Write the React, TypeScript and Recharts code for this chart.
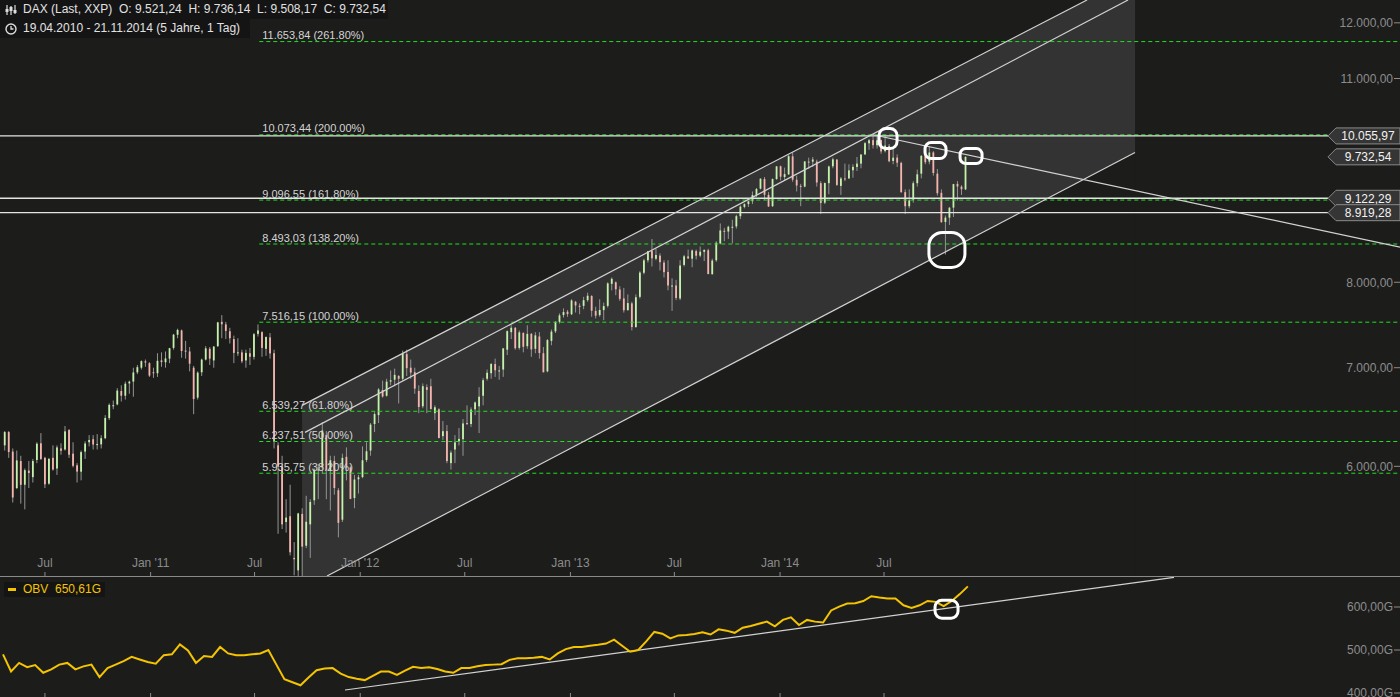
import React from 'react';
import {
  ComposedChart,
  Bar,
  Line,
  Area,
  XAxis,
  YAxis,
  ReferenceLine,
  ReferenceDot,
} from 'recharts';

// weekly DAX candles, week 0 = 19.04.2010
const START = '2010-04-19';

const weekOpen = [
  // 2010
  6200, 6330, 6140, 5800, 6050, 5830, 5960, 5900, 6060, 6220, 6080, 5840, 6080, 5980, 6170, 6160, 6350, 6120, 6010, 5950,
  6140, 6230, 6260, 6210, 6210, 6270, 6470, 6600, 6610, 6750, 6700, 6830, 6850, 6950, 7000, 7070, 7050,
  // 2011
  6950, 6940, 7080, 7060, 7100, 7220, 7370, 7420, 7190, 7180, 7000, 6680, 6950, 7090, 7210, 7080, 7240, 7520, 7490, 7410,
  7320, 7170, 7170, 7080, 7160, 7120, 7380, 7400, 7210, 7340, 7160, 6200, 6000, 5500, 5550, 5200, 5100, 5570, 5300, 5480,
  5690, 5970, 5990, 6300, 5960, 6050, 5780, 5520, 6090, 5990, 5710, 5880,
  // 2012
  5900, 6060, 6150, 6410, 6500, 6760, 6700, 6850, 6870, 6910, 6880, 7150, 7000, 6950, 6750, 6590, 6790, 6800, 6520, 6560,
  6290, 6340, 6030, 6160, 6240, 6260, 6420, 6410, 6560, 6590, 6700, 6880, 6940, 7040, 6970, 6980, 7200, 7400, 7450, 7220,
  7390, 7240, 7380, 7210, 7350, 7160, 6960, 7300, 7410, 7520, 7600, 7640, 7610,
  // 2013
  7760, 7710, 7710, 7780, 7830, 7650, 7600, 7660, 7710, 7980, 8000, 7910, 7800, 7660, 7740, 7460, 7820, 8120, 8280, 8400,
  8300, 8340, 8250, 8130, 7950, 7960, 7800, 8220, 8330, 8300, 8400, 8340, 8390, 8410, 8100, 8280, 8500, 8670, 8660, 8720,
  8730, 8870, 9000, 9040, 9080, 9170, 9260, 9400, 9170, 9010, 9400, 9590,
  // 2014
  9430, 9470, 9740, 9390, 9300, 9290, 9660, 9660, 9660, 9340, 9060, 9340, 9590, 9690, 9300, 9410, 9410, 9530, 9580, 9630,
  9770, 9940, 9990, 9910, 9990, 9820, 9900, 9670, 9720, 9640, 9210, 9010, 9100, 9340, 9480, 9750, 9660, 9800, 9480, 9200,
  8790, 8850, 8990, 9330, 9290, 9250,
];

const weekHigh = [
  6340, 6340, 6170, 6150, 6100, 5980, 6050, 6070, 6230, 6320, 6090, 6080, 6200, 6200, 6220, 6390, 6360, 6230, 6030, 6150,
  6240, 6300, 6300, 6310, 6300, 6500, 6620, 6650, 6780, 6810, 6850, 6860, 7000, 7030, 7080, 7090, 7060,
  7000, 7160, 7170, 7180, 7220, 7380, 7440, 7430, 7300, 7230, 7020, 6960, 7100, 7240, 7230, 7240, 7520, 7600, 7520, 7450,
  7360, 7330, 7200, 7200, 7220, 7390, 7490, 7410, 7350, 7390, 7200, 6230, 6100, 5700, 5830, 5330, 5580, 5620, 5730, 5700,
  5980, 6020, 6430, 6340, 6100, 6100, 5800, 6120, 6180, 6000, 5920, 5920,
  6190, 6230, 6420, 6530, 6780, 6860, 6880, 6970, 6990, 6920, 7190, 7200, 7090, 7000, 6810, 6830, 6820, 6880, 6600, 6570,
  6440, 6400, 6150, 6300, 6370, 6460, 6600, 6580, 6640, 6790, 6890, 6980, 7050, 7100, 7020, 7220, 7420, 7480, 7460, 7420,
  7400, 7480, 7390, 7400, 7400, 7230, 7320, 7430, 7530, 7620, 7680, 7660, 7790,
  7770, 7740, 7820, 7870, 7840, 7700, 7790, 7750, 8000, 8060, 8010, 7950, 7930, 7850, 7760, 7850, 8140, 8300, 8400, 8560,
  8430, 8370, 8280, 8280, 8050, 8030, 8280, 8350, 8420, 8420, 8420, 8460, 8420, 8430, 8300, 8530, 8770, 8710, 8740, 8820,
  8890, 9020, 9050, 9090, 9220, 9270, 9410, 9430, 9210, 9410, 9590, 9600,
  9570, 9760, 9800, 9450, 9330, 9670, 9720, 9730, 9690, 9370, 9350, 9600, 9720, 9700, 9430, 9630, 9620, 9620, 9730, 9770,
  9960, 10010, 10050, 10050, 10000, 10050, 9930, 9880, 9770, 9660, 9250, 9250, 9370, 9540, 9760, 9760, 9890, 9820, 9550, 9250,
  8880, 9000, 9330, 9370, 9310, 9740,
];

const weekLow = [
  6150, 6080, 5670, 5790, 5660, 5610, 5800, 5850, 6030, 6060, 5800, 5830, 5960, 5920, 6110, 6150, 6080, 5990, 5850, 5870,
  6070, 6190, 6160, 6160, 6170, 6260, 6450, 6560, 6600, 6640, 6660, 6720, 6690, 6930, 6980, 7010, 6900,
  6890, 6900, 7010, 7000, 7050, 7200, 7330, 7110, 7100, 6960, 6510, 6660, 6910, 7080, 7030, 7000, 7230, 7330, 7320, 7270,
  7050, 7130, 7050, 7000, 7030, 7090, 7350, 7120, 7130, 7100, 6170, 5400, 5440, 5410, 5220, 5060, 4966, 5000, 5280, 5200,
  5650, 5700, 5930, 5700, 5600, 5740, 5370, 5500, 5870, 5700, 5620, 5750,
  5890, 6040, 6100, 6330, 6420, 6680, 6690, 6810, 6800, 6620, 6860, 6910, 6880, 6720, 6520, 6570, 6520, 6560, 6450, 6270,
  6250, 6030, 5970, 6030, 6200, 6100, 6400, 6380, 6500, 6320, 6600, 6860, 6880, 6900, 6870, 6900, 7140, 7320, 7200, 7200,
  7170, 7210, 7120, 7160, 7100, 6950, 6950, 7250, 7390, 7500, 7570, 7580, 7600,
  7630, 7610, 7670, 7760, 7580, 7560, 7580, 7540, 7690, 7900, 7840, 7770, 7630, 7650, 7420, 7450, 7800, 8100, 8250, 8200,
  8280, 8150, 8060, 7900, 7650, 7780, 7780, 8200, 8300, 8190, 8290, 8320, 8270, 8100, 8100, 8260, 8490, 8530, 8560, 8500,
  8700, 8830, 8980, 9000, 9040, 9140, 9250, 9100, 9000, 9000, 9390, 9380,
  9380, 9460, 9360, 9220, 9010, 9280, 9550, 9580, 9290, 8900, 9040, 9180, 9560, 9300, 9170, 9370, 9400, 9420, 9520, 9560,
  9760, 9840, 9860, 9860, 9780, 9800, 9650, 9620, 9580, 9200, 8900, 8980, 9060, 9290, 9410, 9620, 9620, 9450, 9160, 8780,
  8355, 8750, 8860, 9090, 9170, 9240,
];

const weekClose = [
  6330, 6136, 5715, 6056, 5829, 5964, 5938, 6050, 6216, 6070, 5834, 6070, 5970, 6180, 6148, 6337, 6110, 6005, 5951, 6135,
  6218, 6252, 6208, 6212, 6270, 6471, 6605, 6601, 6754, 6700, 6827, 6849, 6948, 7006, 7072, 7057, 6914,
  6947, 7076, 7062, 7102, 7217, 7371, 7426, 7185, 7178, 7044, 6665, 6946, 7089, 7215, 7100, 7235, 7514, 7492, 7414, 7330,
  7164, 7170, 7070, 7164, 7121, 7376, 7420, 7220, 7344, 7158, 6236, 5997, 5480, 5538, 5246, 5189, 5574, 5292, 5502, 5675,
  5967, 5970, 6346, 5966, 6057, 5800, 5493, 6080, 5986, 5702, 5878, 5898,
  6057, 6143, 6404, 6511, 6766, 6692, 6849, 6864, 6922, 6880, 7157, 6995, 6947, 6775, 6583, 6801, 6762, 6561, 6580, 6271,
  6339, 6050, 6130, 6229, 6263, 6416, 6410, 6557, 6630, 6690, 6865, 6945, 7041, 6972, 6970, 7214, 7412, 7451, 7216, 7398,
  7233, 7380, 7203, 7363, 7163, 6950, 7309, 7406, 7518, 7597, 7636, 7612, 7776,
  7715, 7702, 7779, 7833, 7652, 7593, 7661, 7708, 7986, 8043, 7913, 7795, 7658, 7744, 7459, 7815, 8122, 8279, 8398, 8305,
  8348, 8255, 8128, 7960, 7959, 7806, 8212, 8331, 8303, 8408, 8339, 8391, 8416, 8104, 8276, 8510, 8675, 8661, 8725, 8725,
  8870, 9004, 9039, 9079, 9168, 9255, 9406, 9172, 9006, 9400, 9589, 9435,
  9473, 9742, 9392, 9306, 9289, 9662, 9656, 9692, 9350, 9056, 9342, 9587, 9695, 9315, 9409, 9401, 9529, 9581, 9630, 9768,
  9943, 9987, 9912, 9987, 9815, 9906, 9666, 9720, 9644, 9210, 9010, 9092, 9340, 9470, 9747, 9651, 9799, 9490, 9195, 8788,
  8850, 8988, 9326, 9291, 9252, 9732,
];

// On-Balance-Volume in G, read every 2 weeks
const obvValues = [
  490, 450, 470, 460, 465, 447, 455, 466, 470, 455, 462, 466, 437, 458, 466, 474, 484, 478, 472, 468,
  488, 490, 513, 499, 470, 486, 484, 507, 492, 488, 488, 490, 492, 500, 466, 432, 425, 418, 436, 453,
  457, 458, 445, 437, 433, 430, 440, 450, 450, 442, 452, 461, 458, 460, 456, 450, 447, 458, 458, 462,
  465, 466, 467, 477, 481, 481, 482, 484, 478, 492, 502, 507, 507, 510, 512, 515, 524, 510, 496, 500,
  520, 542, 538, 527, 534, 535, 537, 541, 536, 548, 545, 540, 552, 556, 561, 566, 555, 570, 576, 558,
  570, 566, 564, 592, 601, 608, 609, 614, 625, 622, 620, 620, 604, 598, 604, 614, 612, 602, 614, 630,
  648,
];

const fibLevels = [11653.84, 10073.44, 9096.55, 8493.03, 7516.15, 6539.27, 6237.51, 5935.75];
const fibNames = [
  '11.653,84 (261.80%)',
  '10.073,44 (200.00%)',
  '9.096,55 (161.80%)',
  '8.493,03 (138.20%)',
  '7.516,15 (100.00%)',
  '6.539,27 (61.80%)',
  '6.237,51 (50.00%)',
  '5.935,75 (38.20%)',
];
const lineLevels = [10055.97, 9122.29, 8919.28];
const markLevels = [10055.97, 9732.54, 9122.29, 8919.28];
const priceTicks = [6000, 7000, 8000, 11000, 12000];
const obvTicks = [400, 500, 600];
const tickDates = ['2010-07-01', '2011-01-01', '2011-07-01', '2012-01-01', '2012-07-01', '2013-01-01', '2013-07-01', '2014-01-01', '2014-07-01'];
const tickNames = ['Jul', "Jan '11", 'Jul', "Jan '12", 'Jul', "Jan '13", 'Jul', "Jan '14", 'Jul'];

// drawn trend lines: [week, price] anchors
const channelTop = [[74.38, 6600], [269.65, 12436]];
const channelMid = [[75.12, 6327], [279.85, 12436]];
const channelLow = [[80.59, 5055], [281.59, 9799]];
const resistance = [[216.4, 10075], [347.5, 8452]];
const obvTrend = [[85.07, 407], [291.3, 669]];
// annotation marks: [week, value, w, h]
const priceCircles = [[220.15, 10016, 18, 20], [231.96, 9829, 21, 16], [240.8, 9745, 22, 15], [234.8, 8414, 36, 35]];
const obvCircle = [234.7, 595, 23, 18];

const X_DOMAIN = [-0.75, 347.5];
const P_DOMAIN = [5055, 12436];
const OBV_DOMAIN = [390.7, 669.8];
const FIB_START = 63.75;
const BG = '#1c1c1b';
const GREY = '#8c8c8c';
const M = { top: 0, right: 0, bottom: 0, left: 0 };

const weeksSince = (d: string) => (Date.parse(d) - Date.parse(START)) / (7 * 86400000);
const xTicks = tickDates.map(weeksSince);

const de = (v: number) => {
  const [i, d] = v.toFixed(2).split('.');
  return i.replace(/\B(?=(\d{3})+(?!\d))/g, '.') + ',' + d;
};

const candleRows = weekOpen.map((o, i) => ({
  t: i + 0.3,
  open: o,
  high: weekHigh[i],
  low: weekLow[i],
  close: weekClose[i],
  range: [weekLow[i], weekHigh[i]],
}));

const obvRows = obvValues.map((v, i) => ({ t: i * 2, obv: v }));

const channelRows = [
  { t: channelTop[0][0], chTop: channelTop[0][1], chLow: null },
  { t: channelLow[0][0], chTop: null, chLow: channelLow[0][1] },
  { t: channelTop[1][0], chTop: channelTop[1][1], chLow: null },
  { t: channelLow[1][0], chTop: P_DOMAIN[1], chLow: channelLow[1][1] },
];

const Candle = (props: any) => {
  let { x, y, width, height } = props;
  const p = props.payload || props;
  if (height < 0) {
    y += height;
    height = -height;
  }
  const cx = x + width / 2;
  const lh = Math.log(p.high);
  const ll = Math.log(p.low);
  const k = lh - ll > 0 ? height / (lh - ll) : 0;
  const yo = y + (lh - Math.log(p.open)) * k;
  const yc = y + (lh - Math.log(p.close)) * k;
  const up = p.close >= p.open;
  return (
    <g>
      <line x1={cx} x2={cx} y1={y} y2={y + height} stroke="#959595" strokeWidth={1} />
      <rect
        x={cx - 0.9}
        y={Math.min(yo, yc)}
        width={1.8}
        height={Math.max(1, Math.abs(yc - yo))}
        fill={up ? '#c4f2aa' : '#f5b5ae'}
      />
    </g>
  );
};

const seg = (a: number[][]) => [
  { x: a[0][0], y: a[0][1] },
  { x: a[1][0], y: a[1][1] },
];

const ringShape = (w: number, h: number) => (p: any) => (
  <rect x={p.cx - w / 2} y={p.cy - h / 2} width={w} height={h} rx={Math.min(w, h) / 2.6} fill="none" stroke="#ffffff" strokeWidth={3} />
);

const priceTag = (v: number) => (p: any) => (
  <g>
    <polygon
      points={`${p.cx - 72},${p.cy} ${p.cx - 64},${p.cy - 8} ${p.cx},${p.cy - 8} ${p.cx},${p.cy + 8} ${p.cx - 64},${p.cy + 8}`}
      fill="#353535"
      stroke="#8a8a8a"
      strokeWidth={1}
    />
    <text x={p.cx - 32} y={p.cy + 4.5} textAnchor="middle" fill="#f2f2f2" fontSize={12}>
      {de(v)}
    </text>
  </g>
);

const fibLabel = (name: string) => (p: any) => (
  <text x={p.cx + 3} y={p.cy - 2.5} fill="#d4d4d4" fontSize={11}>
    {name}
  </text>
);

const ChartIcon = () => (
  <svg width={12} height={12} style={{ position: 'absolute', left: 5, top: 4 }}>
    <g stroke="#dddddd" strokeWidth={1.2}>
      <line x1={2} y1={1} x2={2} y2={11} />
      <line x1={6} y1={2} x2={6} y2={11} />
      <line x1={10} y1={1} x2={10} y2={10} />
    </g>
    <rect x={0.5} y={5} width={3} height={3} fill="#dddddd" />
    <rect x={4.5} y={3} width={3} height={4} fill="#dddddd" />
    <rect x={8.5} y={6} width={3} height={3} fill="#dddddd" />
  </svg>
);

const ClockIcon = () => (
  <svg width={12} height={12} style={{ position: 'absolute', left: 5, top: 4 }}>
    <circle cx={6} cy={6} r={5} fill="none" stroke="#dddddd" strokeWidth={1.4} />
    <path d="M6 3 V6 H8.5" fill="none" stroke="#dddddd" strokeWidth={1.3} />
  </svg>
);

const App = () => {
  return (
    <div
      style={{
        position: 'absolute',
        left: 0,
        top: 0,
        width: 1400,
        height: 697,
        background: BG,
        overflow: 'hidden',
        fontFamily: "'Liberation Sans', Arial, sans-serif",
      }}
    >
      {/* channel shading */}
      <div style={{ position: 'absolute', left: 0, top: 0 }}>
        <ComposedChart width={1400} height={576} data={channelRows} margin={M}>
          <XAxis type="number" dataKey="t" domain={X_DOMAIN} allowDataOverflow hide />
          <YAxis scale="log" domain={P_DOMAIN} allowDataOverflow hide />
          <Area dataKey="chTop" type="linear" baseValue={P_DOMAIN[0]} stroke="none" fill="#333333" fillOpacity={1} connectNulls isAnimationActive={false} />
          <Area dataKey="chLow" type="linear" baseValue={P_DOMAIN[0]} stroke="none" fill={BG} fillOpacity={1} connectNulls isAnimationActive={false} />
        </ComposedChart>
      </div>

      {/* candles */}
      <div style={{ position: 'absolute', left: 0, top: 0 }}>
        <ComposedChart width={1400} height={576} data={candleRows} margin={M}>
          <XAxis type="number" dataKey="t" domain={X_DOMAIN} allowDataOverflow hide />
          <YAxis scale="log" domain={P_DOMAIN} allowDataOverflow hide />
          <Bar dataKey="range" barSize={3} shape={Candle} isAnimationActive={false} />
        </ComposedChart>
      </div>

      {/* lines, levels, axes */}
      <div style={{ position: 'absolute', left: 0, top: 0 }}>
        <ComposedChart width={1400} height={576} data={candleRows} margin={M}>
          <XAxis
            type="number"
            dataKey="t"
            domain={X_DOMAIN}
            allowDataOverflow
            ticks={xTicks}
            interval={0}
            tickFormatter={(_v: number, i: number) => tickNames[i]}
            mirror
            axisLine={false}
            tickLine={{ stroke: GREY }}
            tick={{ fill: GREY, fontSize: 12 }}
            tickSize={4}
            tickMargin={5}
          />
          <YAxis
            orientation="right"
            mirror
            scale="log"
            domain={P_DOMAIN}
            allowDataOverflow
            ticks={priceTicks}
            interval={0}
            tickFormatter={de}
            axisLine={false}
            tickLine={{ stroke: GREY }}
            tick={{ fill: GREY, fontSize: 12 }}
            tickSize={6}
            tickMargin={1}
          />
          {fibLevels.map((v) => (
            <ReferenceLine
              key={'fib' + v}
              segment={[{ x: FIB_START, y: v }, { x: X_DOMAIN[1], y: v }]}
              stroke="#1ee21e"
              strokeDasharray="4 3"
              ifOverflow="hidden"
            />
          ))}
          {lineLevels.map((v) => (
            <ReferenceLine
              key={'hl' + v}
              segment={[{ x: X_DOMAIN[0], y: v }, { x: 329.6, y: v }]}
              stroke="#e4e4e4"
              strokeWidth={1.3}
              ifOverflow="hidden"
            />
          ))}
          <ReferenceLine segment={seg(channelTop)} stroke="#d2d2d2" strokeWidth={1.2} ifOverflow="hidden" />
          <ReferenceLine segment={seg(channelMid)} stroke="#d2d2d2" strokeWidth={1.2} ifOverflow="hidden" />
          <ReferenceLine segment={seg(channelLow)} stroke="#d2d2d2" strokeWidth={1.2} ifOverflow="hidden" />
          <ReferenceLine segment={seg(resistance)} stroke="#d2d2d2" strokeWidth={1.2} ifOverflow="hidden" />
          {fibLevels.map((v, i) => (
            <ReferenceDot key={'fl' + v} x={FIB_START} y={v} ifOverflow="visible" shape={fibLabel(fibNames[i])} />
          ))}
          {markLevels.map((v) => (
            <ReferenceDot key={'pt' + v} x={X_DOMAIN[1]} y={v} ifOverflow="visible" shape={priceTag(v)} />
          ))}
          {priceCircles.map((c) => (
            <ReferenceDot key={'c' + c[0]} x={c[0]} y={c[1]} ifOverflow="visible" shape={ringShape(c[2], c[3])} />
          ))}
        </ComposedChart>
      </div>

      <div style={{ position: 'absolute', left: 0, top: 576, width: 1400, height: 1, background: '#8a8a8a' }} />

      {/* OBV panel */}
      <div style={{ position: 'absolute', left: 0, top: 577 }}>
        <ComposedChart width={1400} height={120} data={obvRows} margin={M}>
          <XAxis
            type="number"
            dataKey="t"
            domain={X_DOMAIN}
            allowDataOverflow
            ticks={xTicks}
            interval={0}
            tickFormatter={() => ''}
            mirror
            axisLine={false}
            tickLine={{ stroke: GREY }}
            tick={{ fill: GREY, fontSize: 12 }}
            tickSize={4}
          />
          <YAxis
            orientation="right"
            mirror
            domain={OBV_DOMAIN}
            allowDataOverflow
            ticks={obvTicks}
            interval={0}
            tickFormatter={(v: number) => `${v},00G`}
            axisLine={false}
            tickLine={{ stroke: GREY }}
            tick={{ fill: GREY, fontSize: 12 }}
            tickSize={6}
            tickMargin={1}
          />
          <ReferenceLine segment={seg(obvTrend)} stroke="#d2d2d2" strokeWidth={1.2} ifOverflow="hidden" />
          <Line dataKey="obv" type="linear" stroke="#f5c400" strokeWidth={2} dot={false} isAnimationActive={false} />
          <ReferenceDot x={obvCircle[0]} y={obvCircle[1]} ifOverflow="visible" shape={ringShape(obvCircle[2], obvCircle[3])} />
        </ComposedChart>
      </div>

      {/* header */}
      <div style={{ position: 'absolute', left: 0, top: 0, width: 388, height: 19, background: '#141414', color: '#e2e2e2', fontSize: 12, lineHeight: '19px', whiteSpace: 'pre' }}>
        <ChartIcon />
        <span style={{ position: 'absolute', left: 23, top: 0 }}>DAX (Last, XXP)  O: 9.521,24  H: 9.736,14  L: 9.508,17  C: 9.732,54</span>
      </div>
      <div style={{ position: 'absolute', left: 0, top: 19, width: 250, height: 19, background: '#141414', color: '#e2e2e2', fontSize: 12, lineHeight: '19px', whiteSpace: 'pre' }}>
        <ClockIcon />
        <span style={{ position: 'absolute', left: 23, top: 0 }}>19.04.2010 - 21.11.2014 (5 Jahre, 1 Tag)</span>
      </div>

      {/* OBV legend */}
      <div style={{ position: 'absolute', left: 4, top: 582, width: 101, height: 15, background: '#141414', color: '#f5c400', fontSize: 12, lineHeight: '15px', whiteSpace: 'pre' }}>
        <div style={{ position: 'absolute', left: 4, top: 6, width: 8, height: 3, background: '#f5c400' }} />
        <span style={{ position: 'absolute', left: 19, top: 0 }}>OBV  650,61G</span>
      </div>
    </div>
  );
};

export default App;
